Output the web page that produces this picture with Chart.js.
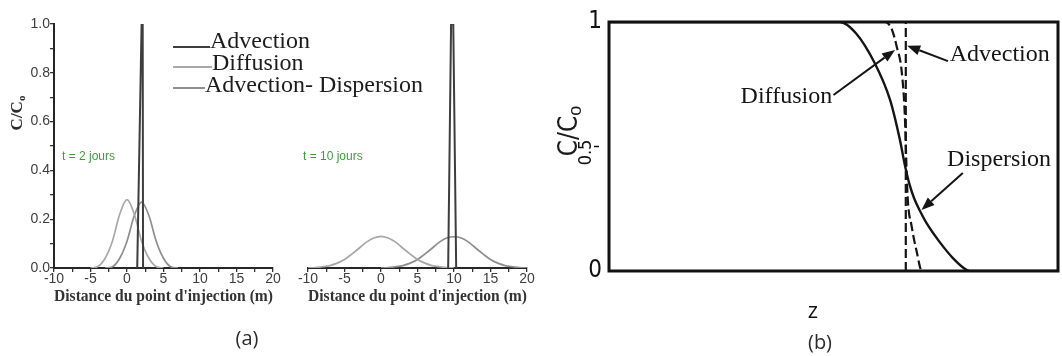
<!DOCTYPE html>
<html>
<head>
<meta charset="utf-8">
<title>Advection, diffusion et dispersion</title>
<script src="https://cdn.jsdelivr.net/npm/chart.js@4.4.1/dist/chart.umd.min.js"></script>
<style>
  html, body { margin: 0; padding: 0; background: #fff; }
  #fig { position: relative; width: 1062px; height: 356px; overflow: hidden; background: #fff; }
  #fig canvas { position: absolute; top: 0; }
  .cap { position: absolute; font-family: "Open Sans", "Liberation Sans", sans-serif; font-size: 20px; color: #2a2a2a; transform: translateX(-50%); line-height: 27px; }
</style>
</head>
<body>
<div id="fig">
  <canvas id="panelA" width="440" height="356" style="left:0px"></canvas>
  <canvas id="panelB" width="260" height="356" style="left:290px"></canvas>
  <canvas id="panelC" width="512" height="356" style="left:550px"></canvas>
  <div class="cap" style="left:247px; top:324px">(a)</div>
  <div class="cap" style="left:820px; top:328px">(b)</div>
</div>
<script>
// ---- series names ----
const seriesNames = ['Advection', 'Diffusion', 'Advection- Dispersion'];

// ---- (a) t = 2 jours : C/C0 against distance (m) ----
const xAdv2  = [1.4, 2.0, 2.15, 2.2];
const yAdv2  = [0, 1, 1, 0];
const xDiff2 = [-5, -4, -3, -2, -1, 0, 1, 2, 3, 4, 5];
const yDiff2 = [0, 0.006, 0.04, 0.11, 0.22, 0.28, 0.22, 0.11, 0.04, 0.006, 0];
const xDisp2 = [-3, -2, -1, 0, 1, 2, 3, 4, 5, 6, 7];
const yDisp2 = [0, 0.005, 0.04, 0.11, 0.215, 0.27, 0.215, 0.11, 0.04, 0.005, 0];

// ---- (a) t = 10 jours ----
const xAdv10  = [9.2, 9.6, 9.9, 10.3];
const yAdv10  = [0, 1, 1, 0];
const xDiff10 = [-10, -9, -8, -7, -6, -5, -4, -3, -2, -1, 0, 1, 2, 3, 4, 5, 6, 7, 8, 9, 10];
const yDiff10 = [0, 0.002, 0.005, 0.01, 0.02, 0.035, 0.057, 0.081, 0.106, 0.123, 0.13, 0.123, 0.106, 0.081, 0.057, 0.035, 0.02, 0.01, 0.005, 0.002, 0];
const xDisp10 = [0, 1, 2, 3, 4, 5, 6, 7, 8, 9, 10, 11, 12, 13, 14, 15, 16, 17, 18, 19, 20];
const yDisp10 = [0, 0.002, 0.005, 0.01, 0.02, 0.035, 0.057, 0.081, 0.106, 0.123, 0.128, 0.123, 0.106, 0.081, 0.057, 0.035, 0.02, 0.01, 0.005, 0.002, 0];

// ---- axis ticks for (a) ----
const distTicks = [-10, -7.5, -5, -2.5, 0, 2.5, 5, 7.5, 10, 12.5, 15, 17.5, 20];
const concTicks = [0, 0.1, 0.2, 0.3, 0.4, 0.5, 0.6, 0.7, 0.8, 0.9, 1.0];

// ---- (b) breakthrough fronts along z (relative position 0..100) ----
const zAdv  = [66.1, 66.1];
const cAdv  = [0, 1];
const zDiff = [0, 61.5, 63.0, 64.1, 65.2, 65.9, 66.2, 66.5, 67.4, 68.5, 69.7, 100];
const cDiff = [1, 1, 0.97, 0.9, 0.8, 0.62, 0.45, 0.3, 0.18, 0.08, 0, 0];
const zDisp = [0, 51.4, 55, 59.2, 62.6, 64.8, 65.9, 66.9, 68.0, 69.3, 70.8, 73.7, 76.7, 79.7, 81, 100];
const cDisp = [1, 1, 0.955, 0.834, 0.687, 0.526, 0.425, 0.35, 0.29, 0.24, 0.19, 0.115, 0.05, 0.004, 0, 0];
const frontTicks = [0, 0.5, 1];

// ---- (b) callouts: label, anchor of text, arrow tail, arrow tip (z, C/C0) ----
const noteLabels = ['Advection', 'Diffusion', 'Dispersion'];
const noteAnchor = [[75.9, 0.867], [49.7, 0.699], [75.3, 0.446]];
const noteTail   = [[75.5, 0.843], [50.0, 0.707], [78.8, 0.394]];
const noteTip    = [[66.4, 0.905], [63.7, 0.888], [69.6, 0.245]];
const noteSide   = ['left', 'right', 'left'];

const pts = (xs, ys) => xs.map((v, i) => ({ x: v, y: ys[i] }));

const TICK_FONT = { family: '"Liberation Sans", Arial, sans-serif', size: 14 };
const SERIF = '"Liberation Serif", "Times New Roman", serif';
const NARROW = '"Liberation Sans Narrow", "Arial Narrow", "DejaVu Sans Condensed", "Liberation Sans", sans-serif';

// draws free text items (optionally rotated, with subscript)
const freeText = {
  id: 'freeText',
  afterDraw(chart, args, opts) {
    const ctx = chart.ctx;
    (opts.items || []).forEach(it => {
      ctx.save();
      ctx.translate(it.x, it.y);
      if (it.rot) ctx.rotate(it.rot);
      ctx.fillStyle = it.color || '#111';
      ctx.textBaseline = 'middle';
      ctx.font = it.font;
      const w1 = ctx.measureText(it.text).width;
      let w2 = 0;
      if (it.sub) { ctx.font = it.subFont; w2 = ctx.measureText(it.sub).width; ctx.font = it.font; }
      let x0 = 0;
      if (it.align === 'center') x0 = -(w1 + w2) / 2;
      ctx.textAlign = 'left';
      ctx.fillText(it.text, x0, 0);
      if (it.sub) { ctx.font = it.subFont; ctx.fillText(it.sub, x0 + w1, it.subShift || 4); }
      ctx.restore();
    });
  }
};

// legend drawn from the datasets themselves
const sideLegend = {
  id: 'sideLegend',
  afterDraw(chart, args, opts) {
    if (!opts.rows) return;
    const ctx = chart.ctx;
    ctx.save();
    ctx.font = '24px ' + SERIF;
    ctx.fillStyle = '#1c1c1c';
    ctx.textBaseline = 'alphabetic';
    chart.data.datasets.forEach((ds, i) => {
      const r = opts.rows[i];
      ctx.strokeStyle = ds.borderColor;
      ctx.lineWidth = 2;
      ctx.beginPath();
      ctx.moveTo(opts.lineStart, r.line);
      ctx.lineTo(r.text, r.line);
      ctx.stroke();
      ctx.fillText(ds.label, r.text, r.base);
    });
    ctx.restore();
  }
};

// frame, 0.5 label and callout arrows for panel (b)
const frontDecor = {
  id: 'frontDecor',
  afterDatasetsDraw(chart) {
    const { ctx, chartArea: a, scales: { x, y } } = chart;
    ctx.save();
    ctx.strokeStyle = '#111';
    ctx.lineWidth = 3;
    ctx.strokeRect(a.left, a.top, a.right - a.left, a.bottom - a.top);

    // mid tick and its rotated value
    const yMid = y.getPixelForValue(frontTicks[1]);
    ctx.lineWidth = 1.5;
    ctx.beginPath();
    ctx.moveTo(a.left - 15, yMid);
    ctx.lineTo(a.left - 10, yMid);
    ctx.stroke();
    ctx.save();
    ctx.translate(a.left - 23, yMid + 6);
    ctx.rotate(-Math.PI / 2);
    ctx.font = '18px ' + NARROW;
    ctx.fillStyle = '#111';
    ctx.textAlign = 'center';
    ctx.textBaseline = 'middle';
    ctx.fillText(String(frontTicks[1]), 0, 0);
    ctx.restore();

    // callouts
    ctx.font = '24px ' + SERIF;
    ctx.fillStyle = '#151515';
    ctx.textBaseline = 'middle';
    noteLabels.forEach((lab, i) => {
      ctx.textAlign = noteSide[i];
      ctx.fillText(lab, x.getPixelForValue(noteAnchor[i][0]), y.getPixelForValue(noteAnchor[i][1]));
      const tx = x.getPixelForValue(noteTail[i][0]), ty = y.getPixelForValue(noteTail[i][1]);
      const hx = x.getPixelForValue(noteTip[i][0]), hy = y.getPixelForValue(noteTip[i][1]);
      const ang = Math.atan2(hy - ty, hx - tx);
      const L = 13, W = 5;
      const bx = hx - L * Math.cos(ang), by = hy - L * Math.sin(ang);
      ctx.strokeStyle = '#151515';
      ctx.lineWidth = 2;
      ctx.beginPath();
      ctx.moveTo(tx, ty);
      ctx.lineTo(bx, by);
      ctx.stroke();
      ctx.beginPath();
      ctx.moveTo(hx, hy);
      ctx.lineTo(bx + W * Math.sin(ang), by - W * Math.cos(ang));
      ctx.lineTo(bx - W * Math.sin(ang), by + W * Math.cos(ang));
      ctx.closePath();
      ctx.fill();
    });
    ctx.restore();
  }
};

function distanceAxis() {
  return {
    type: 'linear', min: -10, max: 20,
    afterBuildTicks: s => { s.ticks = distTicks.map(v => ({ value: v })); },
    ticks: { callback: v => (v % 5 === 0 ? String(v) : ''), font: TICK_FONT, color: '#3e3e3e', padding: -1, maxRotation: 0, autoSkip: false },
    grid: { display: true, drawOnChartArea: false, drawTicks: true, tickLength: 4, color: '#333', lineWidth: 1.3 },
    border: { display: true, color: '#262626', width: 2 },
    title: { display: true, text: "Distance du point d'injection (m)", font: { family: SERIF, size: 16, weight: 'bold' }, color: '#333', padding: { top: 0, bottom: 50 } },
    afterFit: s => { s.height = 88; }
  };
}

function peakSets(xa, ya, xd, yd, xs, ys) {
  return [
    { label: seriesNames[0], data: pts(xa, ya), borderColor: '#3d3d3d', borderWidth: 2, tension: 0 },
    { label: seriesNames[1], data: pts(xd, yd), borderColor: '#a8a8a8', borderWidth: 1.7, cubicInterpolationMode: 'monotone' },
    { label: seriesNames[2], data: pts(xs, ys), borderColor: '#8e8e8e', borderWidth: 1.7, cubicInterpolationMode: 'monotone' }
  ];
}

const common = {
  responsive: false, animation: false,
  elements: { point: { radius: 0 } },
};

// ---- (a) left: t = 2 jours ----
new Chart(document.getElementById('panelA'), {
  type: 'line',
  data: { datasets: peakSets(xAdv2, yAdv2, xDiff2, yDiff2, xDisp2, yDisp2) },
  options: {
    ...common,
    layout: { padding: { top: 24, right: 167, left: 0, bottom: 0 } },
    scales: {
      x: distanceAxis(),
      y: {
        type: 'linear', min: 0, max: 1,
        afterBuildTicks: s => { s.ticks = concTicks.map(v => ({ value: v })); },
        ticks: { callback: (v, i) => (i % 2 === 0 ? v.toFixed(1) : ''), font: TICK_FONT, color: '#3e3e3e', padding: 0, autoSkip: false },
        grid: { display: true, drawOnChartArea: false, drawTicks: true, tickLength: 4, color: '#333', lineWidth: 1.3 },
        border: { display: true, color: '#262626', width: 2 },
        afterFit: s => { s.width = 54; }
      }
    },
    plugins: {
      legend: { display: false }, tooltip: { enabled: false },
      sideLegend: { lineStart: 173, rows: [ { line: 47, text: 210, base: 48 }, { line: 67, text: 212, base: 70 }, { line: 88, text: 205, base: 92 } ] },
      freeText: { items: [
        { text: 't = 2 jours', x: 62, y: 157, font: '12px "Liberation Sans", Arial, sans-serif', color: '#3f9a3f' },
        { text: 'C/C', sub: 'o', x: 18, y: 113, rot: -Math.PI / 2, align: 'center', font: 'bold 17px ' + SERIF, subFont: 'bold 11px ' + SERIF, subShift: 4, color: '#2b2b2b' }
      ] }
    }
  },
  plugins: [sideLegend, freeText]
});

// ---- (a) right: t = 10 jours ----
new Chart(document.getElementById('panelB'), {
  type: 'line',
  data: { datasets: peakSets(xAdv10, yAdv10, xDiff10, yDiff10, xDisp10, yDisp10) },
  options: {
    ...common,
    layout: { padding: { top: 24, right: 23, left: 18, bottom: 0 } },
    scales: {
      x: distanceAxis(),
      y: { type: 'linear', min: 0, max: 1, display: false }
    },
    plugins: {
      legend: { display: false }, tooltip: { enabled: false },
      freeText: { items: [
        { text: 't = 10 jours', x: 13, y: 157, font: '12px "Liberation Sans", Arial, sans-serif', color: '#3f9a3f' }
      ] }
    }
  },
  plugins: [freeText]
});

// ---- (b) fronts ----
new Chart(document.getElementById('panelC'), {
  type: 'line',
  data: { datasets: [
    { label: 'Advection', data: pts(zAdv, cAdv), borderColor: '#151515', borderWidth: 2.2, borderDash: [9, 4], tension: 0 },
    { label: 'Diffusion', data: pts(zDiff, cDiff), borderColor: '#151515', borderWidth: 2.2, borderDash: [9, 4], cubicInterpolationMode: 'monotone' },
    { label: 'Dispersion', data: pts(zDisp, cDisp), borderColor: '#151515', borderWidth: 2.4, cubicInterpolationMode: 'monotone' }
  ] },
  options: {
    ...common,
    layout: { padding: { top: 22, right: 4, left: 0, bottom: 0 } },
    scales: {
      x: {
        type: 'linear', min: 0, max: 100,
        ticks: { display: false },
        grid: { display: false, drawTicks: false },
        border: { display: false },
        title: { display: false, text: 'z' },
        afterFit: s => { s.height = 85; }
      },
      y: {
        type: 'linear', min: 0, max: 1,
        afterBuildTicks: s => { s.ticks = frontTicks.map(v => ({ value: v })); },
        ticks: { callback: v => (v === frontTicks[1] ? '' : String(v)), font: { family: NARROW, size: 24 }, color: '#111', padding: 7 },
        grid: { display: false, drawTicks: false },
        border: { display: false },
        afterFit: s => { s.width = 59; }
      }
    },
    plugins: {
      legend: { display: false }, tooltip: { enabled: false },
      freeText: { items: [
        { text: 'C/C', sub: 'o', x: 20, y: 131, rot: -Math.PI / 2, align: 'center', font: '26px ' + NARROW, subFont: '18px "Liberation Sans", sans-serif', subShift: 6, color: '#1a1a1a' },
        { text: 'z', x: 263, y: 312, align: 'center', font: '22px "Open Sans", "Liberation Sans", sans-serif', color: '#111' }
      ] }
    }
  },
  plugins: [frontDecor, freeText]
});
</script>
</body>
</html>
